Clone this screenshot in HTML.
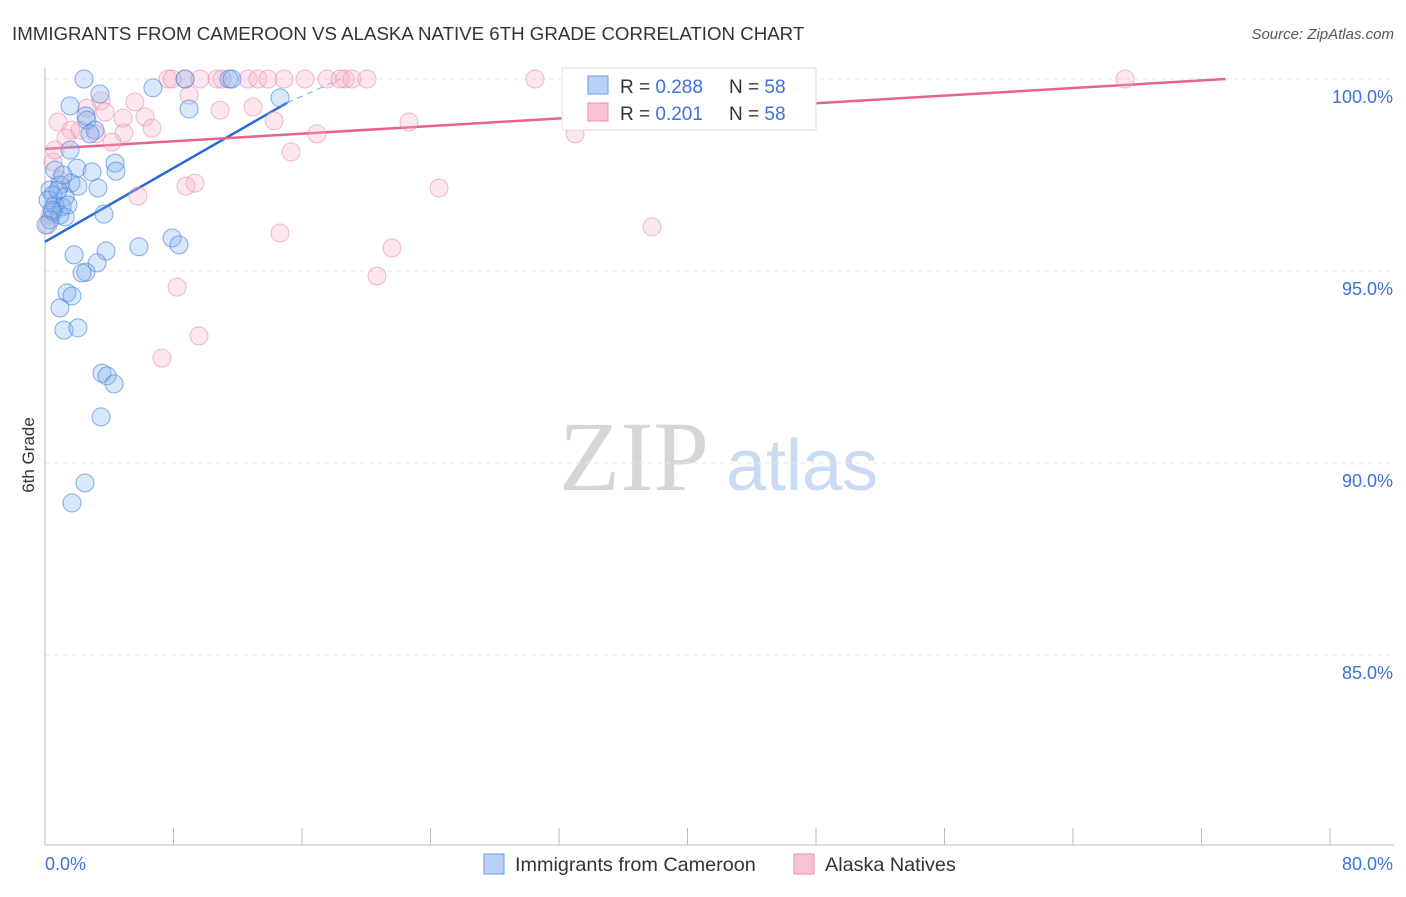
<!DOCTYPE html>
<html><head><meta charset="utf-8"><style>
body{margin:0;background:#fff;font-family:"Liberation Sans",sans-serif;}
</style></head><body>
<svg id="chart" width="1406" height="892" xmlns="http://www.w3.org/2000/svg" font-family="Liberation Sans, sans-serif">
<text x="12" y="40" font-size="18.7" fill="#333">IMMIGRANTS FROM CAMEROON VS ALASKA NATIVE 6TH GRADE CORRELATION CHART</text>
<text x="1394" y="39" font-size="15" fill="#555" font-style="italic" text-anchor="end">Source: ZipAtlas.com</text>
<text transform="translate(34,455) rotate(-90)" font-size="17" fill="#333" text-anchor="middle">6th Grade</text>
<g>
<text x="634" y="490" font-size="100" fill="#d6d6d6" style="font-family:'Liberation Serif',serif" text-anchor="middle">ZIP</text>
<text x="802" y="490" font-size="72" fill="#c9daf3" text-anchor="middle">atlas</text>
</g>
<g id="grid"></g><g id="axes"></g><g id="trends"></g><g id="points"></g>
<g>
<rect x="562" y="68" width="254" height="62" fill="#fff" stroke="#ddd"/>
<rect x="588" y="76" width="20" height="18" fill="#b8d1f5" stroke="#6a9ae0"/>
<text x="620" y="93" font-size="19" fill="#333">R = <tspan fill="#3b73d6">0.288</tspan></text>
<text x="729" y="93" font-size="19" fill="#333">N = <tspan fill="#3b73d6">58</tspan></text>
<rect x="588" y="103" width="20" height="18" fill="#f8c3d3" stroke="#e890b0"/>
<text x="620" y="120" font-size="19" fill="#333">R = <tspan fill="#3b73d6">0.201</tspan></text>
<text x="729" y="120" font-size="19" fill="#333">N = <tspan fill="#3b73d6">58</tspan></text>
</g>
<g>
<rect x="484" y="854" width="20" height="20" fill="#b8d1f5" stroke="#6a9ae0"/>
<text x="515" y="871" font-size="19.8" fill="#333">Immigrants from Cameroon</text>
<rect x="794" y="854" width="20" height="20" fill="#f8c3d3" stroke="#e890b0"/>
<text x="825" y="871" font-size="19.8" fill="#333">Alaska Natives</text>
</g>
</svg>
<script>
const blueX=[2.43,8.72,11.46,11.64,6.72,1.56,3.42,8.97,14.63,2.55,2.61,3.11,2.80,1.56,4.36,4.42,1.99,0.62,2.93,0.93,1.62,2.05,3.30,0.31,0.50,1.25,0.62,1.06,0.50,0.93,1.25,0.31,3.67,7.91,8.34,5.85,3.80,1.81,3.24,2.55,2.30,1.37,1.68,0.93,1.18,2.05,3.55,3.86,4.30,3.49,2.49,1.68,0.19,0.44,0.06,0.81,1.12,1.43];
const blueY=[100,100,100,100,99.77,99.30,99.61,99.22,99.51,99.04,98.93,98.67,98.57,98.15,97.81,97.60,97.68,97.63,97.58,97.24,97.29,97.21,97.16,97.11,96.98,96.93,96.72,96.67,96.54,96.46,96.41,96.33,96.48,95.86,95.68,95.63,95.52,95.42,95.21,94.97,94.95,94.43,94.35,94.04,93.46,93.52,92.34,92.27,92.06,91.20,89.48,88.96,96.85,96.59,96.20,97.11,97.50,96.72];
const pinkX=[7.66,7.91,8.72,10.71,11.02,12.64,13.26,13.88,14.88,16.19,17.56,18.68,19.11,20.05,30.51,41.40,41.53,67.24,8.97,3.49,5.60,2.61,12.95,10.90,3.74,6.23,4.86,0.81,14.26,22.66,6.66,1.62,2.18,4.92,3.18,16.93,33.0,1.31,4.17,15.32,0.50,8.78,9.34,24.53,5.79,37.79,14.63,21.60,20.67,8.22,9.59,7.28,0.31,0.19,0.93,0.62,9.65,18.37];
const pinkY=[100,100,100,100,100,100,100,100,100,100,100,100,100,100,100,100,100,100,99.58,99.43,99.40,99.24,99.27,99.19,99.14,99.01,98.98,98.88,98.91,98.88,98.72,98.67,98.67,98.59,98.57,98.57,98.57,98.46,98.36,98.10,97.84,97.21,97.29,97.16,96.95,96.15,95.99,95.60,94.87,94.58,93.31,92.73,96.46,96.20,97.37,98.15,100,100];
const yTicks=[100,95,90,85];
const yTickLabels=["100.0%","95.0%","90.0%","85.0%"];
const xTicks=[0,8,16,24,32,40,48,56,64,72,80];
const blueTrend=[0,95.76,15.07,99.38,18.4,100];
const pinkTrend=[0,98.18,73.5,100];
const NS="http://www.w3.org/2000/svg";
const X=v=>45+v/80*1285, Y=v=>79+(100-v)/5*192;
function mk(t,a,p){const e=document.createElementNS(NS,t);for(const k in a)e.setAttribute(k,a[k]);document.getElementById(p).appendChild(e);return e;}
yTicks.forEach((t,i)=>{
 const l=mk('line',{x1:45,x2:1394,y1:Y(t),y2:Y(t),stroke:'#e6e6e6','stroke-dasharray':'5,4'},'grid');
 
 
 const tx=mk('text',{x:1393,y:Y(t)+24,'font-size':18,fill:'#3b73d6','text-anchor':'end'},'axes');tx.textContent=yTickLabels[i];
 
 
});
const ax=mk('line',{x1:45,x2:45,y1:68,y2:845,stroke:'#bbb'},'axes');


const bx=mk('line',{x1:45,x2:1394,y1:845,y2:845,stroke:'#bbb'},'axes');


xTicks.forEach(t=>{const l=mk('line',{x1:X(t),x2:X(t),y1:828,y2:845,stroke:'#bbb'},'axes');
 
 });
[[0,'start','0.0%'],[80,'end','80.0%']].forEach(d=>{const t=mk('text',{x:d[0]?1393:45,y:870,'font-size':18,fill:'#3b73d6','text-anchor':d[1]},'axes');t.textContent=d[2];
 
 });
function pts(xs,ys,fill,stroke,name){xs.forEach((x,i)=>{const c=mk('circle',{cx:X(x),cy:Y(ys[i]),r:9,fill:fill,stroke:stroke,'stroke-width':1},'points');
 
 });}
pts(pinkX,pinkY,'rgba(246,175,198,0.3)','rgba(232,140,172,0.6)','alaska-point');
pts(blueX,blueY,'rgba(130,175,240,0.3)','rgba(70,130,220,0.65)','cameroon-point');
let t1=mk('line',{x1:X(blueTrend[0]),y1:Y(blueTrend[1]),x2:X(blueTrend[2]),y2:Y(blueTrend[3]),stroke:'#2a6ad6','stroke-width':2.5},'trends');


let t2=mk('line',{x1:X(blueTrend[2]),y1:Y(blueTrend[3]),x2:X(blueTrend[4]),y2:Y(blueTrend[5]),stroke:'#8aaee8','stroke-width':1.2,'stroke-dasharray':'6,5'},'trends');


let t3=mk('line',{x1:X(pinkTrend[0]),y1:Y(pinkTrend[1]),x2:X(pinkTrend[2]),y2:Y(pinkTrend[3]),stroke:'#e8628e','stroke-width':2.5},'trends');


</script>
</body></html>
